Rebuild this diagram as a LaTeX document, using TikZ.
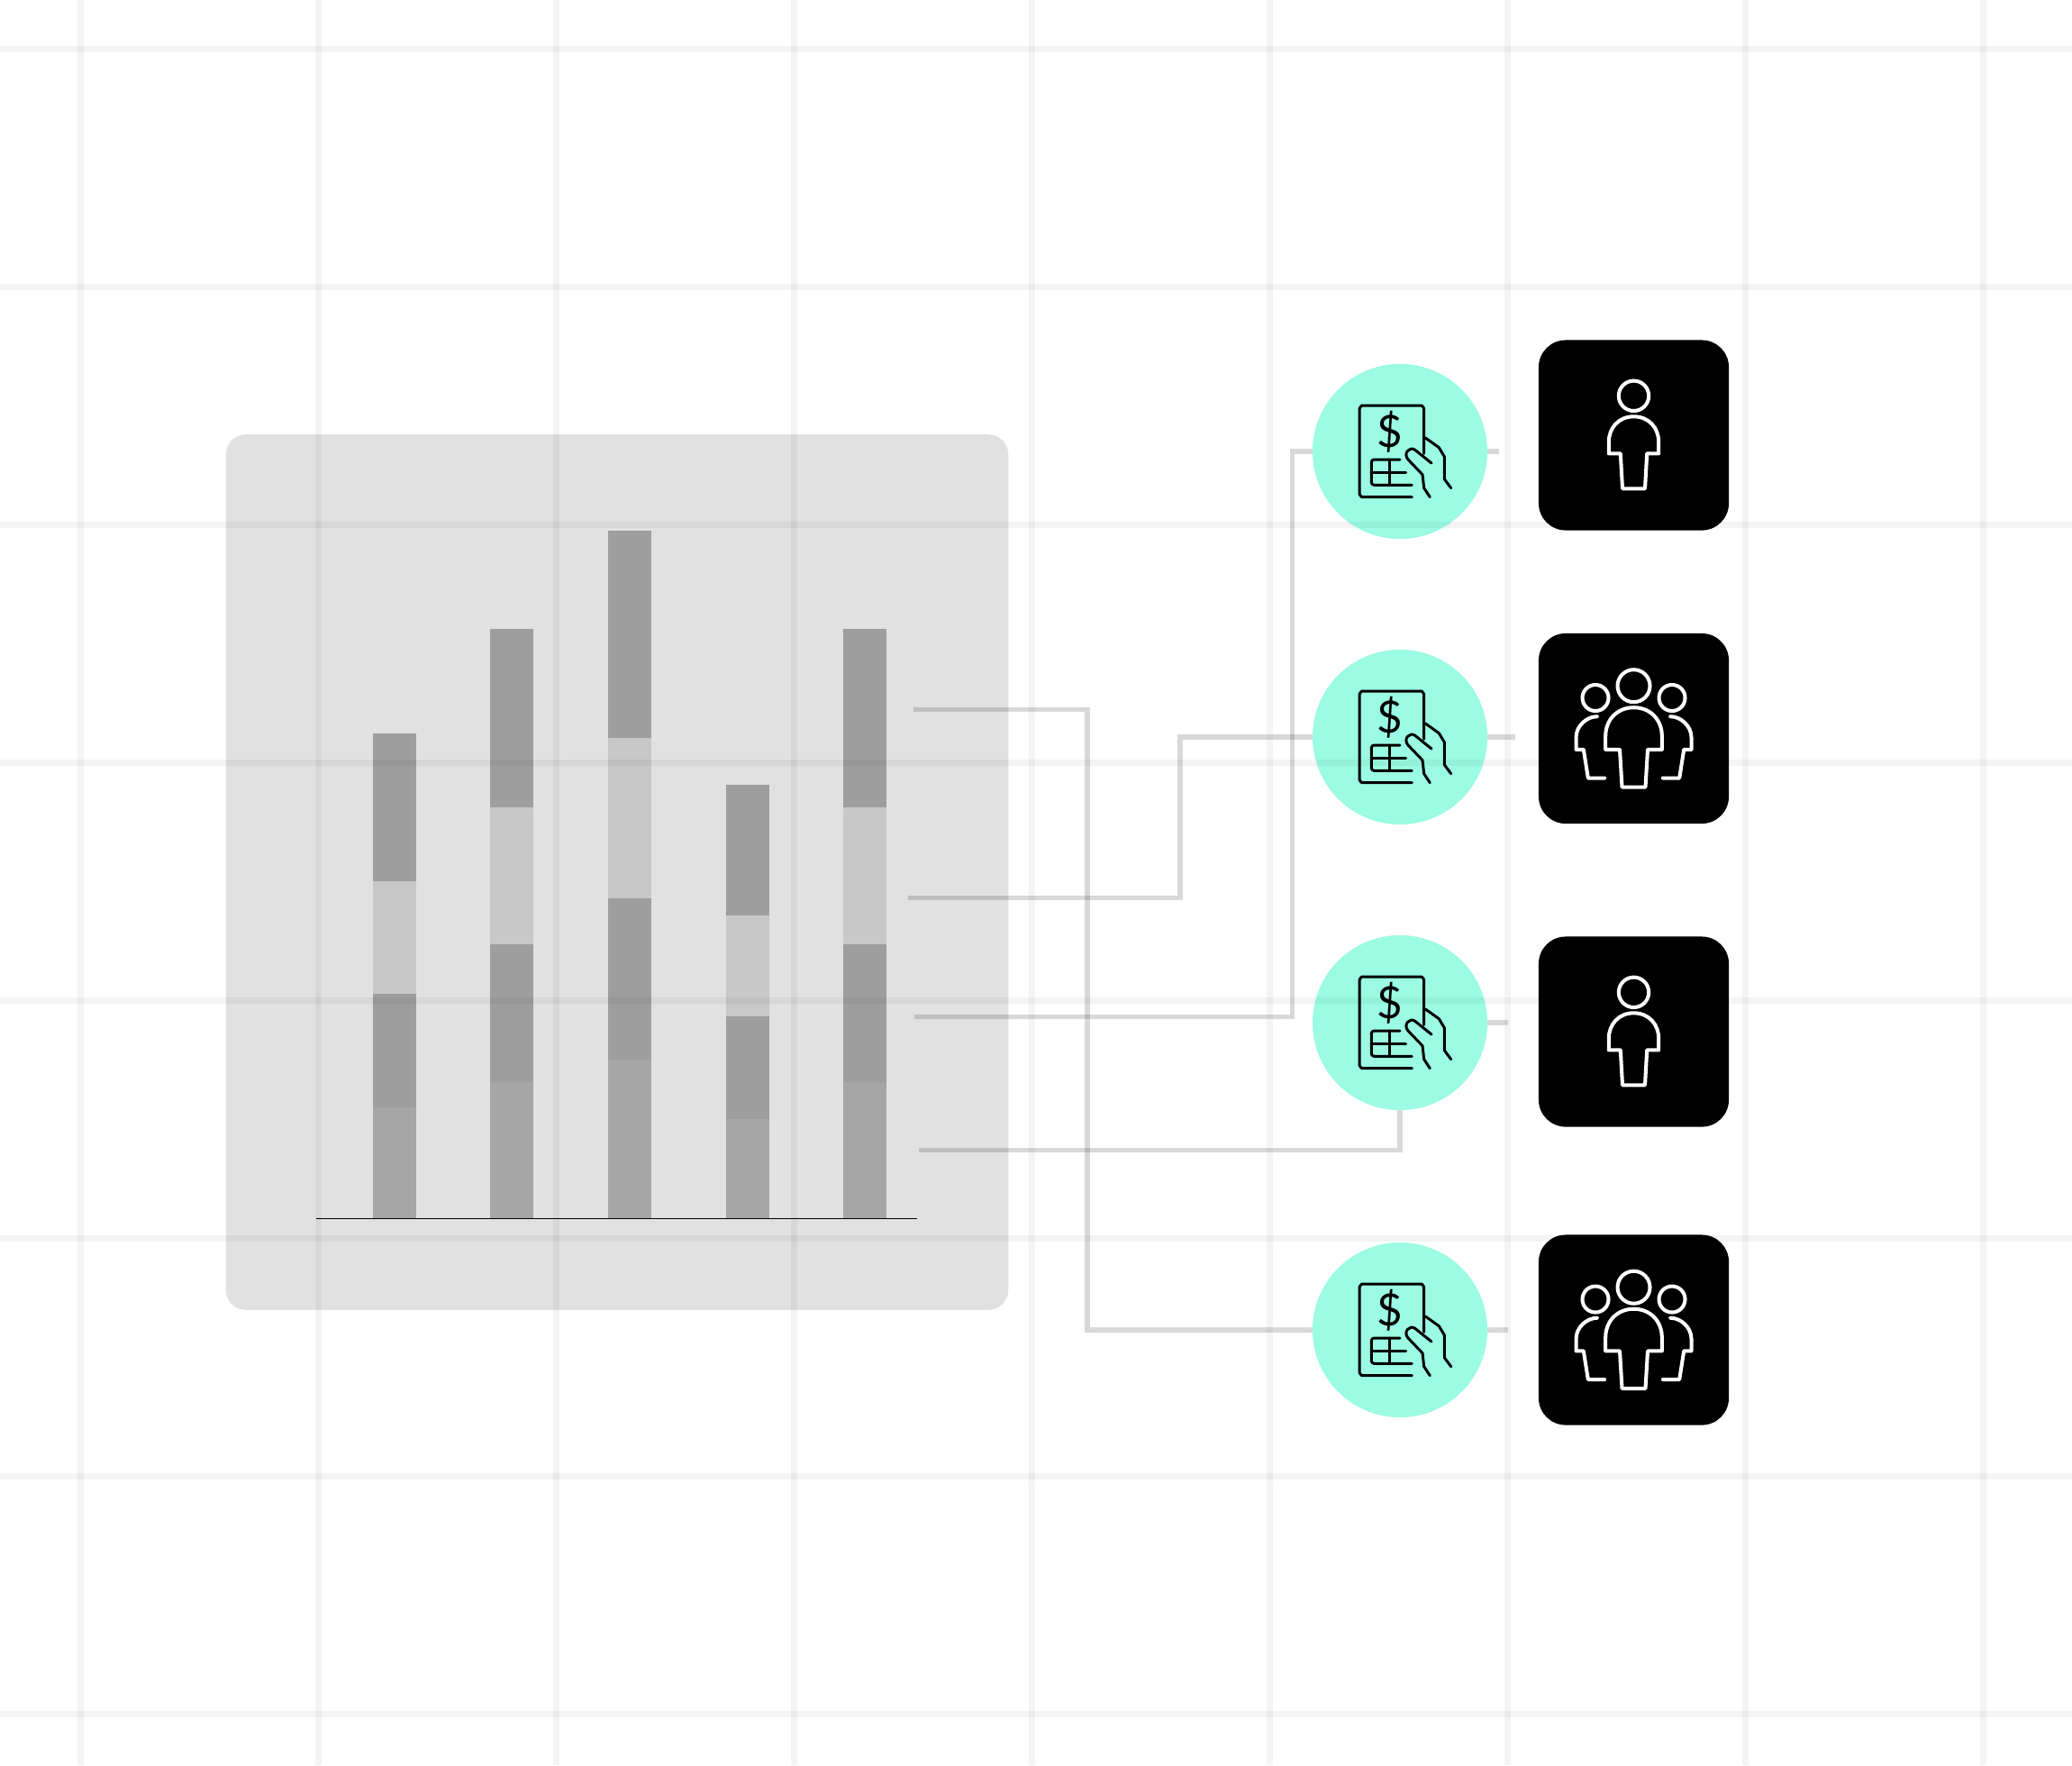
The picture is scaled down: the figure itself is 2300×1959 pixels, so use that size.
\documentclass[tikz,border=0pt]{standalone}
\usepackage{fontspec}
\setmainfont{Liberation Sans}
\newfontfamily\dollarfont{Lato}
\usetikzlibrary{backgrounds}
\definecolor{mintfill}{RGB}{155,251,227}
\definecolor{panelgray}{RGB}{225,225,225}
\definecolor{bardark}{RGB}{158,158,158}
\definecolor{barlight}{RGB}{200,200,200}
\definecolor{barbase}{RGB}{166,166,166}

\tikzset{
  billicon/.pic={
    \draw[billline] (13.3,50.7) -- (-42,50.7) to[out=180,in=90] (-45,47.7) -- (-45,-48)
      to[out=-90,in=180] (-42,-51) -- (23.7,-51) to[out=0,in=-90] (26.7,-48) -- (26.7,2.3);
    \draw[billline] (0,9) -- (-28.7,9) to[out=180,in=90] (-31.7,12) -- (-31.7,34.3)
      to[out=-90,in=180] (-28.7,37.3) -- (13.3,37.3);
    \draw[billline] (-31.7,23) -- (6.7,23);
    \draw[billline] (-11.7,9) -- (-11.7,37.3);
    \draw[billline] (35,13) -- (16.7,-1.7) .. controls (11,-6) and (3,2) .. (9,9)
      -- (25,25.7) -- (26.7,40.7) -- (33.3,50.7);
    \draw[billline] (28.3,-15) -- (43.3,-4.3) -- (49.3,5.7) -- (49.3,30.7) -- (56.7,40.7);
    \node[font=\dollarfont\fontsize{14}{14}\selectfont, inner sep=0pt] (-dollar) at (-11.7,-21.7) {\$};
  },
  oneperson/.pic={
    \draw[iconline] (0,-43.7) circle (16.7);
    \draw[iconline] (0,-20.7) .. controls (-17,-20.7) and (-27.7,-8) .. (-27.7,7.7)
      -- (-27.7,20.3) -- (-14.7,20.3) -- (-12.5,59.3) -- (12.5,59.3) -- (14.7,20.3)
      -- (27.7,20.3) -- (27.7,7.7) .. controls (27.7,-8) and (17,-20.7) .. (0,-20.7) -- cycle;
  },
  threepeople/.pic={
    \draw[iconline] (0,-47.3) circle (18);
    \draw[iconline] (0,-23.3) .. controls (-19,-23.3) and (-31.3,-9) .. (-31.3,8.3)
      -- (-31.3,23.3) -- (-15.5,23.3) -- (-13,65) -- (13,65) -- (15.5,23.3)
      -- (31.3,23.3) -- (31.3,8.3) .. controls (31.3,-9) and (19,-23.3) .. (0,-23.3) -- cycle;
    \foreach \sgn in {-1,1}{
      \draw[iconline] (42.5*\sgn,-34) circle (14.5);
      \draw[iconline] (40.7*\sgn,-13.3) .. controls (52*\sgn,-13.3) and (64*\sgn,-3) .. (64*\sgn,10)
        -- (64*\sgn,23.3) -- (55.7*\sgn,23.3) -- (50.7*\sgn,55) -- (32.3*\sgn,55);
    }
  }
}

\begin{document}
\begin{tikzpicture}[
    x=0.01cm, y=-0.01cm,
    panel/.style={fill=panelgray, rounded corners=0.22cm, minimum width=8.68cm,
                  minimum height=9.71cm, inner sep=0pt, outer sep=0pt},
    billnode/.style={circle, fill=mintfill, minimum size=1.94cm, inner sep=0pt, outer sep=0pt},
    peoplenode/.style={fill=black, rounded corners=0.3cm, minimum size=2.11cm,
                       inner sep=0pt, outer sep=0pt},
    iconline/.style={white, line width=1.15pt, line cap=round, line join=round},
    billline/.style={black, line width=0.85pt, line cap=round, line join=round},
    conn/.style={black, opacity=0.15, line width=1.6pt},
    gridline/.style={black, opacity=0.042, line width=2pt}
  ]
  \useasboundingbox (0,-0.5) rectangle (2300,1958.5);

  % icons
  \node[billnode] (bill1) at (1554,500.5) {};
  \node[billnode] (bill2) at (1554,817.5) {};
  \node[billnode] (bill3) at (1554,1134.5) {};
  \node[billnode] (bill4) at (1554,1475.5) {};
  \node[peoplenode] (people1) at (1813.5,482.5) {};
  \node[peoplenode] (people2) at (1813.5,808) {};
  \node[peoplenode] (people3) at (1813.5,1144.5) {};
  \node[peoplenode] (people4) at (1813.5,1475.5) {};
  \foreach \k in {1,...,4}
    \pic (icon\k) at (bill\k) {billicon};
  \pic (who1) at (people1) {oneperson};
  \pic (who2) at (people2) {threepeople};
  \pic (who3) at (people3) {oneperson};
  \pic (who4) at (people4) {threepeople};

  % free ends
  \coordinate (starta) at (1014,787);
  \coordinate (startb) at (1008,996);
  \coordinate (startc) at (1015,1128);
  \coordinate (startd) at (1020,1276);
  \coordinate (benda) at (1207,1475.5);
  \coordinate (bendb) at (1310,817.5);
  \coordinate (bendc) at (1434.5,500.5);
  \coordinate (endb) at (1682,817.5);
  \coordinate (endc) at (1664,500.5);
  \coordinate (endd) at (1674,1134.5);
  \coordinate (enda) at (1674,1475.5);

  \begin{scope}[on background layer]
    \node[panel] (chart) at (685,967.5) {};
    \foreach \bx/\ya/\yb/\yc/\yd in {414/813/977/1102/1228, 544/697/895/1047/1200,
        675/588/818/996/1175, 806/870/1015/1127/1241, 936/697/895/1047/1200}{
      \fill[bardark] (\bx,\ya) rectangle (\bx+48,\yb);
      \fill[barlight] (\bx,\yb) rectangle (\bx+48,\yc);
      \fill[bardark] (\bx,\yc) rectangle (\bx+48,\yd);
      \fill[barbase] (\bx,\yd) rectangle (\bx+48,1352);
    }
    \draw[black, line width=0.5pt] (351,1352) -- (1018,1352);

    % connectors
    \draw[conn] (starta) -| (benda) -- (bill4.west);
    \draw[conn] (startb) -| (bendb) -- (endb);
    \draw[conn] (startc) -| (bendc) -- (endc);
    \draw[conn] (startd) -| (bill3.south);
    \draw[conn] (bill3.east) -- (endd);
    \draw[conn] (bill4.east) -- (enda);
  \end{scope}

  % grid on top
  \foreach \gx in {0,...,8}
    \draw[gridline] (89.5+264*\gx,-0.5) -- (89.5+264*\gx,1958.5);
  \foreach \gy in {0,...,7}
    \draw[gridline] (0,54+264*\gy) -- (2300,54+264*\gy);
\end{tikzpicture}
\end{document}
